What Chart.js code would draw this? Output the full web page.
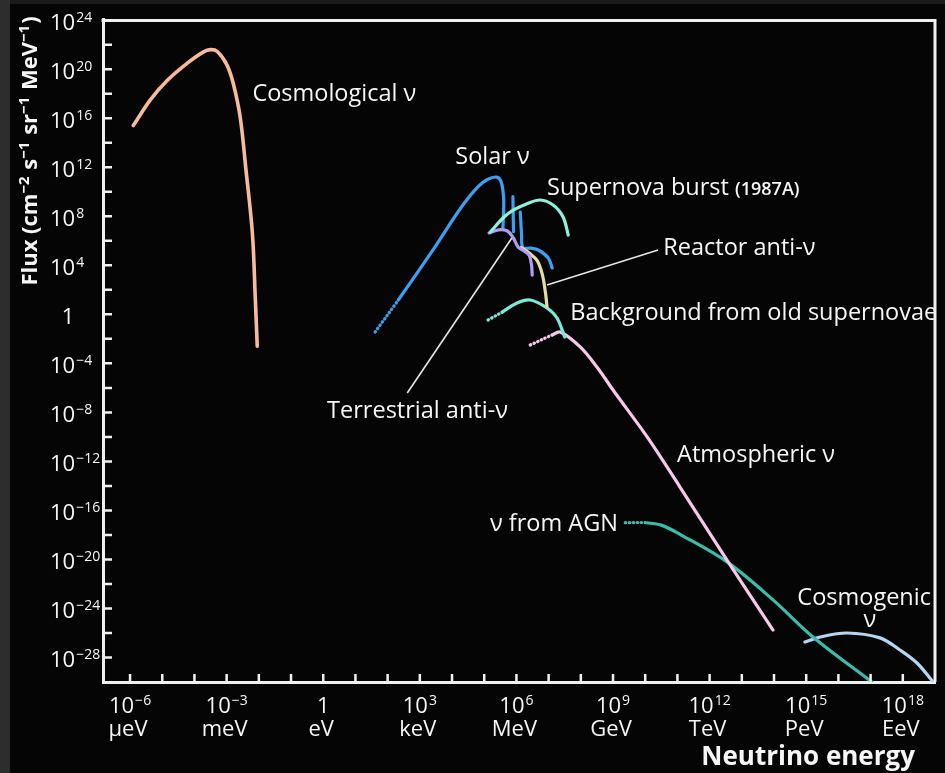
<!DOCTYPE html>
<html lang="en">
<head>
<meta charset="UTF-8">
<title>Neutrino flux vs energy</title>
<style>
    html, body { margin: 0; padding: 0; background: #050505; overflow: hidden; }
    #wrap { width: 945px; height: 773px; }
</style>
</head>
<body>
<div id="wrap"><canvas id="fluxChart" width="945" height="773"></canvas></div>

<script src="https://cdn.jsdelivr.net/npm/chart.js"></script>
<script>
    // every value is a log10: x = log10(E / eV), y = log10(flux / cm^-2 s^-1 sr^-1 MeV^-1)

    // axis ticks
    const xTicks = [-6, -5, -4, -3, -2, -1, 0, 1, 2, 3, 4, 5, 6, 7, 8, 9, 10, 11, 12, 13, 14, 15, 16, 17, 18];
    const xLabelExps = [-6, -3, 0, 3, 6, 9, 12, 15, 18];
    const xUnits = ['μeV', 'meV', 'eV', 'keV', 'MeV', 'GeV', 'TeV', 'PeV', 'EeV'];
    const yTicks = [-28, -26, -24, -22, -20, -18, -16, -14, -12, -10, -8, -6, -4, -2, 0, 2, 4, 6, 8, 10, 12, 14, 16, 18, 20, 22, 24];
    const yLabelExps = [24, 20, 16, 12, 8, 4, 0, -4, -8, -12, -16, -20, -24, -28];

    // spectra
    const cosmoE = [-5.9, -5.37, -4.84, -4.22, -3.73, -3.5, -3.29, -3.0, -2.8, -2.58, -2.4, -2.2, -2.11, -2.05];
    const cosmoF = [15.4, 17.5, 19.1, 20.5, 21.4, 21.6, 21.45, 20.4, 18.9, 16.1, 11.8, 6.6, 1.3, -2.6];

    const solarE = [1.61, 2.33, 3.42, 4.25, 4.8, 5.1, 5.38, 5.52, 5.6, 5.6, 5.58];
    const solarF = [-1.44, 1.17, 5.3, 8.6, 10.4, 11.0, 11.2, 10.85, 9.6, 8.2, 7.05];
    const solarBeE = [5.89, 5.91];
    const solarBeF = [9.6, 6.75];
    const solarB8E = [6.12, 6.16, 6.2, 6.45, 6.68, 6.99, 7.11];
    const solarB8F = [8.35, 6.5, 5.45, 5.4, 5.25, 4.6, 3.78];

    const supernovaE = [5.19, 5.6, 5.9, 6.35, 6.74, 7.14, 7.45, 7.61];
    const supernovaF = [6.72, 7.9, 8.5, 9.05, 9.33, 8.92, 7.94, 6.47];

    const terrestrialE = [5.15, 5.45, 5.72, 5.9, 6.05, 6.25, 6.4, 6.47, 6.49];
    const terrestrialF = [6.64, 6.9, 6.8, 6.25, 5.5, 5.15, 4.8, 4.0, 3.2];

    const reactorE = [6.15, 6.4, 6.64, 6.8, 6.9, 6.95];
    const reactorF = [5.45, 5.0, 4.4, 3.3, 1.8, 0.6];

    const oldSnE = [5.12, 5.56, 6.02, 6.43, 6.95, 7.26, 7.5];
    const oldSnF = [-0.46, 0.19, 0.93, 1.17, 0.52, -0.3, -1.85];

    const atmoE = [6.43, 7.11, 7.36, 7.98, 8.5, 9.0, 10.06, 11.08, 12.54, 13.97];
    const atmoF = [-2.5, -1.68, -1.44, -2.66, -4.3, -6.17, -10.0, -14.09, -20.05, -25.76];

    const agnE = [9.38, 10.0, 10.5, 11.08, 12.54, 13.97, 15.21, 17.04];
    const agnF = [-17.0, -17.0, -17.2, -17.95, -20.2, -23.3, -26.33, -30.0];

    const cosmogenicE = [14.96, 15.43, 16.27, 17.29, 17.91, 18.44, 18.94];
    const cosmogenicF = [-26.74, -26.33, -26.0, -26.4, -27.39, -28.45, -30.0];

    // pointer lines from labels
    const terrLineE = [2.61, 5.9];
    const terrLineF = [-6.42, 6.39];
    const reacLineE = [6.95, 10.4];
    const reacLineF = [2.39, 5.25];

    // labels (left edge / baseline in data coords)
    const notes = [
        { text: 'Cosmological ν', e: -2.2, f: 17.4 },
        { text: 'Solar ν', e: 4.1, f: 12.27 },
        { text: 'Supernova burst ', small: '(1987A)', e: 6.95, f: 9.74 },
        { text: 'Reactor anti-ν', e: 10.56, f: 4.84 },
        { text: 'Background from old supernovae', e: 7.67, f: -0.46 },
        { text: 'Terrestrial anti-ν', e: 0.12, f: -8.46 },
        { text: 'Atmospheric ν', e: 10.99, f: -12.05 },
        { text: 'ν from AGN', e: 5.18, f: -17.68 },
        { text: 'Cosmogenic', e: 16.8, f: -23.72, center: true },
        { text: 'ν', e: 16.98, f: -25.51, center: true }
    ];

    const FONT = '"Open Sans", "DejaVu Sans", sans-serif';
    const TXT = '#f6f6f6';

    function pts(xs, ys) {
        return xs.map((x, i) => ({ x: x, y: ys[i] }));
    }

    function curve(xs, ys, color, dots, width) {
        const ds = {
            data: pts(xs, ys),
            borderColor: color,
            borderWidth: width || 3.2,
            pointRadius: 0,
            tension: 0.35,
            borderCapStyle: 'round',
            borderJoinStyle: 'round'
        };
        if (dots) {
            ds.segment = { borderDash: c => c.p1DataIndex <= dots ? [0.5, 3.5] : undefined };
        }
        return ds;
    }

    function pointer(xs, ys) {
        return { data: pts(xs, ys), borderColor: '#e6e6e6', borderWidth: 1.6, pointRadius: 0, tension: 0 };
    }

    // "10" with a raised exponent, baseline at y
    function drawPow(ctx, exp, x, y, align) {
        const base = exp === 0 ? '1' : '10';
        const sup = exp === 0 ? '' : String(exp).replace('-', '\u2212');
        ctx.font = '500 22px ' + FONT;
        const wb = ctx.measureText(base).width;
        ctx.font = '500 14px ' + FONT;
        const ws = sup ? ctx.measureText(sup).width + 1 : 0;
        const x0 = align === 'center' ? x - (wb + ws) / 2 : x;
        ctx.textAlign = 'left';
        ctx.textBaseline = 'alphabetic';
        ctx.font = '500 22px ' + FONT;
        ctx.fillText(base, x0, y);
        if (sup) {
            ctx.font = '500 14px ' + FONT;
            ctx.fillText(sup, x0 + wb + 1, y - 8);
        }
    }

    const frame = {
        id: 'frame',
        beforeDraw(chart) {
            const ctx = chart.ctx;
            ctx.save();
            ctx.fillStyle = '#050505';
            ctx.fillRect(0, 0, chart.width, chart.height);
            ctx.fillStyle = '#1b1b1b';
            ctx.fillRect(0, 0, chart.width, 4);
            ctx.fillStyle = '#2d2d2d';
            ctx.fillRect(0, 0, 10, chart.height);
            ctx.restore();
        },
        afterDraw(chart) {
            const ctx = chart.ctx;
            const a = chart.chartArea;
            const xs = chart.scales.x;
            const ys = chart.scales.y;
            ctx.save();
            ctx.strokeStyle = '#f0f0f0';
            ctx.lineWidth = 3;
            ctx.beginPath();
            ctx.moveTo(a.left - 1.5, a.top + 1.5);
            ctx.lineTo(a.right, a.top + 1.5);
            ctx.lineTo(a.right, a.bottom);
            ctx.stroke();

            // inward ticks
            ctx.lineWidth = 2.5;
            ctx.beginPath();
            xTicks.forEach(v => {
                const px = xs.getPixelForValue(v);
                ctx.moveTo(px, a.bottom);
                ctx.lineTo(px, a.bottom - 8);
            });
            yTicks.forEach(v => {
                const py = ys.getPixelForValue(v);
                ctx.moveTo(a.left, py);
                ctx.lineTo(a.left + 9, py);
            });
            ctx.stroke();

            ctx.fillStyle = TXT;
            // y tick labels
            yLabelExps.forEach(v => {
                const py = ys.getPixelForValue(v);
                if (v === 0) drawPow(ctx, 0, 68, py + 9.5, 'center');
                else drawPow(ctx, v, 50, py + 9.5, 'left');
            });
            // x tick labels with unit names
            xLabelExps.forEach((v, i) => {
                const px = xs.getPixelForValue(v);
                drawPow(ctx, v, px, a.bottom + 31, 'center');
                ctx.font = '500 22px ' + FONT;
                ctx.textAlign = 'center';
                ctx.fillText(xUnits[i], px - 2, a.bottom + 54);
            });

            // x title
            ctx.font = 'bold 26px ' + FONT;
            ctx.textAlign = 'right';
            ctx.fillText('Neutrino energy', 915, 765);

            // y title, rotated
            const runs = [['Flux (cm', 0], ['\u22122', 1], [' s', 0], ['\u22121', 1], [' sr', 0], ['\u22121', 1], [' MeV', 0], ['\u22121', 1], [')', 0]];
            let total = 0;
            runs.forEach(r => {
                ctx.font = r[1] ? 'bold 15px ' + FONT : 'bold 22px ' + FONT;
                r.push(ctx.measureText(r[0]).width);
                total += r[2] + (r[1] ? 1 : 0);
            });
            ctx.translate(37, 151 + total / 2);
            ctx.rotate(-Math.PI / 2);
            ctx.textAlign = 'left';
            let cx = 0;
            runs.forEach(r => {
                ctx.font = r[1] ? 'bold 15px ' + FONT : 'bold 22px ' + FONT;
                ctx.fillText(r[0], cx, r[1] ? -8 : 0);
                cx += r[2] + (r[1] ? 1 : 0);
            });
            ctx.restore();
        },
        afterDatasetsDraw(chart) {
            const ctx = chart.ctx;
            const xs = chart.scales.x;
            const ys = chart.scales.y;
            ctx.save();
            ctx.fillStyle = TXT;
            ctx.textBaseline = 'alphabetic';
            notes.forEach(n => {
                const px = xs.getPixelForValue(n.e);
                const py = ys.getPixelForValue(n.f);
                ctx.font = '500 23.5px ' + FONT;
                ctx.textAlign = n.center ? 'center' : 'left';
                ctx.fillText(n.text, px, py);
                if (n.small) {
                    const w = ctx.measureText(n.text).width;
                    ctx.font = '600 18px ' + FONT;
                    ctx.fillText(n.small, px + w, py);
                }
            });
            ctx.restore();
        }
    };

    const ctx = document.getElementById('fluxChart').getContext('2d');
    const chart = new Chart(ctx, {
        type: 'line',
        data: {
            datasets: [
                curve(cosmoE, cosmoF, '#f7bb9c', 0, 3.6),
                curve(supernovaE, supernovaF, '#8cf2dc'),
                curve(terrestrialE, terrestrialF, '#b09cf0'),
                curve(reactorE, reactorF, '#e6dca2'),
                curve(solarE, solarF, '#3d9ff0', 1),
                curve(solarBeE, solarBeF, '#3d9ff0'),
                curve(solarB8E, solarB8F, '#3d9ff0'),
                curve(oldSnE, oldSnF, '#7de8d8', 1),
                curve(atmoE, atmoF, '#f6c9ea', 1),
                curve(agnE, agnF, '#3bbcaa', 1),
                curve(cosmogenicE, cosmogenicF, '#b6d5f2'),
                pointer(terrLineE, terrLineF),
                pointer(reacLineE, reacLineF)
            ]
        },
        options: {
            responsive: false,
            animation: false,
            devicePixelRatio: 1,
            layout: { padding: { top: 19, right: 10, left: 0, bottom: 0 } },
            plugins: {
                legend: { display: false },
                tooltip: { enabled: false }
            },
            scales: {
                x: {
                    type: 'linear',
                    min: -6.84,
                    max: 19,
                    grid: { display: false },
                    border: { display: true, color: '#f0f0f0', width: 3 },
                    ticks: { display: false },
                    afterBuildTicks: s => { s.ticks = xTicks.map(v => ({ value: v })); },
                    afterFit: s => { s.height = 91; }
                },
                y: {
                    type: 'linear',
                    min: -30,
                    max: 24.1,
                    grid: { display: false },
                    border: { display: true, color: '#f0f0f0', width: 3 },
                    ticks: { display: false },
                    afterBuildTicks: s => { s.ticks = yTicks.map(v => ({ value: v })); },
                    afterFit: s => { s.width = 103; }
                }
            }
        },
        plugins: [frame]
    });
</script>
</body>
</html>
